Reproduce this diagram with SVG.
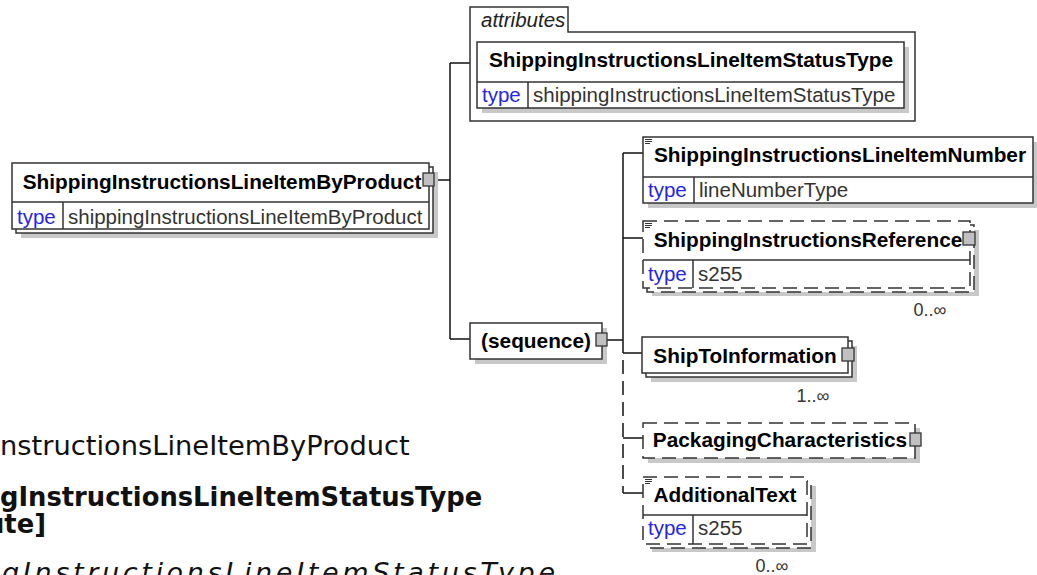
<svg xmlns="http://www.w3.org/2000/svg" width="1037" height="575" viewBox="0 0 1037 575">
<style>
.bg{fill:#ffffff}
.box{fill:#ffffff;stroke:#333333;stroke-width:1.5}
.dbox{fill:#ffffff;stroke:#333333;stroke-width:1.5;stroke-dasharray:14 7}
.sh{fill:#c8c8c8}
.div{stroke:#333333;stroke-width:1.5;fill:none}
.tab{fill:#c0c0c0;stroke:#333333;stroke-width:1.3}
.ann{stroke:#333333;stroke-width:1}
.t{font-family:"Liberation Sans",Arial,sans-serif;font-size:20.8px;font-weight:bold;fill:#000000;text-anchor:middle}
.k{font-family:"Liberation Sans",Arial,sans-serif;font-size:20.5px;fill:#2525e8}
.v{font-family:"Liberation Sans",Arial,sans-serif;font-size:20.5px;fill:#333333}
.o{font-family:"Liberation Sans",Arial,sans-serif;font-size:18px;fill:#333333;text-anchor:middle}
.it{font-family:"Liberation Sans",Arial,sans-serif;font-size:20.5px;font-style:italic;fill:#222222}
.ln{stroke:#111111;stroke-width:1.5;fill:none}
.dl{stroke:#111111;stroke-width:1.5;fill:none;stroke-dasharray:14 7}
.pg{font-family:"DejaVu Sans",Verdana,sans-serif;fill:#111111}
</style>
<rect class="bg" x="0" y="0" width="1037" height="575"/>

<g id="page-text">
<text class="pg" x="0" y="455" font-size="27.3">nstructionsLineItemByProduct</text>
<text class="pg" x="0" y="506" font-size="25.8" font-weight="bold">gInstructionsLineItemStatusType</text>
<text class="pg" x="-14" y="533" font-size="25.8" font-weight="bold">ute]</text>
<text class="pg" x="2" y="582" font-size="27" font-style="italic" textLength="553" lengthAdjust="spacing">gInstructionsLineItemStatusType</text>
</g>

<g id="connectors">
<line class="ln" x1="435" y1="180" x2="450" y2="180"/>
<line class="ln" x1="450" y1="63" x2="450" y2="339"/>
<line class="ln" x1="450" y1="63" x2="470" y2="63"/>
<line class="ln" x1="450" y1="339" x2="470" y2="339"/>
<line class="ln" x1="607" y1="340" x2="623" y2="340"/>
<line class="ln" x1="623" y1="153" x2="623" y2="353"/>
<line class="dl" x1="623" y1="360" x2="623" y2="493"/>
<line class="ln" x1="623" y1="153" x2="643" y2="153"/>
<line class="ln" x1="623" y1="238" x2="643" y2="238"/>
<line class="ln" x1="623" y1="353" x2="642" y2="353"/>
<line class="ln" x1="623" y1="438" x2="643" y2="438"/>
<line class="ln" x1="623" y1="493" x2="643" y2="493"/>
</g>

<g id="node-main">
<rect class="sh" x="21" y="172" width="417" height="66"/>
<rect class="box" x="16" y="167" width="417" height="66"/>
<rect class="box" x="12" y="163" width="417" height="66"/>
<line class="div" x1="12" y1="202" x2="429" y2="202"/>
<line class="div" x1="63" y1="202" x2="63" y2="229"/>
<text class="t" x="222" y="189">ShippingInstructionsLineItemByProduct</text>
<text class="k" x="17" y="224">type</text>
<text class="v" x="68" y="224">shippingInstructionsLineItemByProduct</text>
<rect class="tab" x="423" y="173" width="11" height="13"/>
</g>

<g id="attributes">
<path class="box" d="M470,121 V7 H568 V32 H915 V121 Z"/>
<text class="it" x="481" y="27">attributes</text>
</g>

<g id="node-status">
<rect class="sh" x="482" y="47" width="427" height="66"/>
<rect class="box" x="477" y="42" width="427" height="66"/>
<line class="div" x1="477" y1="82" x2="904" y2="82"/>
<line class="div" x1="528" y1="82" x2="528" y2="108"/>
<text class="t" x="691" y="67">ShippingInstructionsLineItemStatusType</text>
<text class="k" x="482" y="102">type</text>
<text class="v" x="533" y="102">shippingInstructionsLineItemStatusType</text>
</g>

<g id="node-sequence">
<rect class="sh" x="475" y="328" width="132" height="36"/>
<rect class="box" x="470" y="323" width="132" height="36"/>
<text class="t" x="536" y="348">(sequence)</text>
<rect class="tab" x="596" y="333" width="11" height="13"/>
</g>

<g id="node-linenumber">
<rect class="sh" x="648" y="142" width="390" height="66"/>
<rect class="box" x="643" y="137" width="390" height="66"/>
<line class="div" x1="643" y1="177" x2="1033" y2="177"/>
<line class="div" x1="694" y1="177" x2="694" y2="203"/>
<line class="ann" x1="645" y1="139.5" x2="652" y2="139.5"/>
<line class="ann" x1="645" y1="141.5" x2="652" y2="141.5"/>
<line class="ann" x1="645" y1="143.5" x2="650" y2="143.5"/>
<text class="t" x="840" y="162">ShippingInstructionsLineItemNumber</text>
<text class="k" x="648" y="197">type</text>
<text class="v" x="699" y="197">lineNumberType</text>
</g>

<g id="node-reference">
<rect class="sh" x="652" y="230" width="327" height="66"/>
<rect class="dbox" x="647" y="225" width="327" height="67"/>
<rect class="dbox" x="643" y="221" width="327" height="67"/>
<line class="div" x1="643" y1="260" x2="970" y2="260"/>
<line class="div" x1="693" y1="260" x2="693" y2="288"/>
<line class="ann" x1="645" y1="223.5" x2="652" y2="223.5"/>
<line class="ann" x1="645" y1="225.5" x2="652" y2="225.5"/>
<line class="ann" x1="645" y1="227.5" x2="650" y2="227.5"/>
<text class="t" x="808" y="247">ShippingInstructionsReference</text>
<text class="k" x="648" y="281">type</text>
<text class="v" x="698" y="281">s255</text>
<rect class="tab" x="963" y="232" width="12" height="13"/>
<text class="o" x="930" y="316">0..∞</text>
</g>

<g id="node-shipto">
<rect class="sh" x="651" y="346" width="206" height="36"/>
<rect class="box" x="646" y="341" width="206" height="36"/>
<rect class="box" x="642" y="337" width="206" height="36"/>
<text class="t" x="745" y="363">ShipToInformation</text>
<rect class="tab" x="842" y="348" width="12" height="13"/>
<text class="o" x="813" y="402">1..∞</text>
</g>

<g id="node-packaging">
<rect class="sh" x="648" y="428" width="272" height="35"/>
<rect class="dbox" x="643" y="423" width="272" height="35"/>
<text class="t" x="780" y="447">PackagingCharacteristics</text>
<rect class="tab" x="910" y="433" width="11" height="13"/>
</g>

<g id="node-additionaltext">
<rect class="sh" x="652" y="486" width="164" height="66"/>
<rect class="dbox" x="647" y="481" width="164" height="67"/>
<rect class="dbox" x="643" y="477" width="164" height="67"/>
<line class="div" x1="643" y1="515" x2="807" y2="515"/>
<line class="div" x1="693" y1="515" x2="693" y2="544"/>
<line class="ann" x1="645" y1="479.5" x2="652" y2="479.5"/>
<line class="ann" x1="645" y1="481.5" x2="652" y2="481.5"/>
<line class="ann" x1="645" y1="483.5" x2="650" y2="483.5"/>
<text class="t" x="725" y="502">AdditionalText</text>
<text class="k" x="648" y="535">type</text>
<text class="v" x="698" y="535">s255</text>
<text class="o" x="772" y="572">0..∞</text>
</g>
</svg>
